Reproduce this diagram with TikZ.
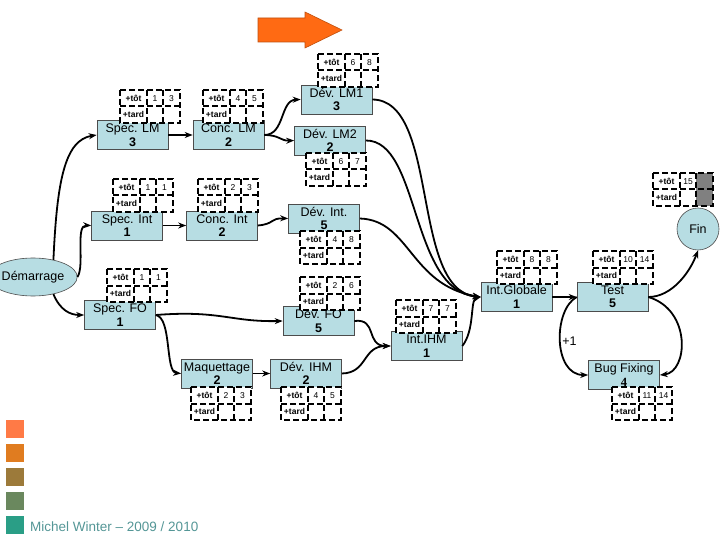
\documentclass[tikz,border=0pt]{standalone}
\usepackage{fontspec}
\setmainfont{Liberation Sans}
\newfontfamily\serifgras{Liberation Serif}
\usetikzlibrary{shapes.geometric, arrows.meta}

\definecolor{bleuclair}{RGB}{183,221,227}
\definecolor{orangevif}{RGB}{255,106,19}
\definecolor{leg1}{RGB}{255,122,70}
\definecolor{leg2}{RGB}{224,124,32}
\definecolor{leg3}{RGB}{156,122,58}
\definecolor{leg4}{RGB}{106,136,94}
\definecolor{leg5}{RGB}{42,158,134}
\definecolor{signature}{RGB}{84,150,150}

\begin{document}
\begin{tikzpicture}[x=1pt, y=-1pt,
    tache/.style={draw=gray!60!black, line width=0.6pt, fill=bleuclair,
      minimum width=71pt, minimum height=29pt, inner sep=1pt, align=center,
      font=\fontsize{12.5}{13.5}\selectfont},
    grille/.style={dash pattern=on 6pt off 3pt, line width=2pt},
    fleche/.style={line width=1.8pt, -{Stealth[length=8pt,width=6pt]}},
    petit/.style={font=\fontsize{8.5}{9}\selectfont, inner sep=0pt}]
  \useasboundingbox (0,0) rectangle (720,540);

  % fleche orange en haut
  \filldraw[fill=orangevif, draw=orangevif!75!black, line width=0.6pt]
    (258,18) -- (305,18) -- (305,12) -- (342,30) -- (305,48) -- (305,42) -- (258,42) -- cycle;

  % les taches
  \node[ellipse, draw=gray!60!black, line width=0.6pt, fill=bleuclair, minimum width=66pt,
    minimum height=38pt, inner sep=0pt, font=\fontsize{12.5}{13.5}\selectfont] (demarrage) at (33,277) {Démarrage};
  \node[tache] (speclm) at (132.5,135) {Spec. LM\\\textbf{3}};
  \node[tache] (conclm) at (228.5,135) {Conc. LM\\\textbf{2}};
  \node[tache] (devlm1) at (336.5,99.5) {Dév. LM1\\\textbf{3}};
  \node[tache] (devlm2) at (330,140.5) {Dév. LM2\\\textbf{2}};
  \node[tache] (specint) at (127,225.5) {Spec. Int\\\textbf{1}};
  \node[tache] (concint) at (222,225.5) {Conc. Int\\\textbf{2}};
  \node[tache] (devint) at (324,218.5) {Dév. Int.\\\textbf{5}};
  \node[tache] (specfo) at (120,315) {Spec. FO\\\textbf{1}};
  \node[tache] (devfo) at (318.5,321) {Dév. FO\\\textbf{5}};
  \node[tache] (maquet) at (217,373.5) {Maquettage\\\textbf{2}};
  \node[tache] (devihm) at (306,373.5) {Dév. IHM\\\textbf{2}};
  \node[tache] (intihm) at (426.5,346) {Int.IHM\\\textbf{1}};
  \node[tache] (intglob) at (516.5,297) {Int.Globale\\\textbf{1}};
  \node[tache] (test) at (612.5,297) {Test\\\textbf{5}};
  \node[tache] (bugfix) at (624,375) {Bug Fixing\\{\serifgras\bfseries 4}};
  \node[circle, draw=gray!60!black, line width=0.6pt, fill=bleuclair, minimum size=42pt,
    inner sep=0pt, font=\fontsize{12.5}{13.5}\selectfont] (fin) at (698,229) {Fin};

  % les liens
  \draw[fleche] (demarrage.40) .. controls (57,180) and (65,140) .. (speclm.west);
  \draw[fleche] (demarrage.east) .. controls (85,265) and (75,225) .. (specint.west);
  \draw[fleche] (demarrage.-40) .. controls (60,310) and (70,315) .. (specfo.west);
  \draw[fleche] (speclm) -- (conclm);
  \draw[fleche] (conclm.east) .. controls (285,135) and (280,100) .. (devlm1.west);
  \draw[fleche] (conclm.east) .. controls (280,135) and (280,141) .. (devlm2.west);
  \draw[fleche] (specint) -- (concint);
  \draw[fleche] (concint.east) .. controls (275,224) and (270,218) .. (devint.west);
  \draw[fleche] (specfo.east) .. controls (220,310) and (230,322) .. (devfo.west);
  \draw[fleche] (specfo.east) .. controls (172,318) and (165,372) .. (maquet.west);
  \draw[fleche] (maquet) -- (devihm);
  \draw[fleche] (devfo.east) .. controls (378,318) and (365,346) .. (intihm.west);
  \draw[fleche] (devihm.east) .. controls (368,373) and (362,346) .. (intihm.west);
  \draw[fleche] (devlm1.east) .. controls (440,100) and (410,290) .. (intglob.west);
  \draw[fleche] (devlm2.east) .. controls (420,140) and (410,290) .. (intglob.west);
  \draw[fleche] (devint.east) .. controls (410,220) and (410,285) .. (intglob.west);
  \draw[fleche] (intihm.east) .. controls (475,330) and (470,300) .. (intglob.west);
  \draw[fleche] (intglob) -- (test);
  \draw[fleche] (test.east) .. controls (672,297) and (690,272) .. (fin.south);
  \draw[fleche] (test.east) .. controls (692,310) and (688,372) .. (bugfix.east);
  \draw[fleche] (test.west) .. controls (553,310) and (553,375) .. node[right, inner sep=1pt,
    font=\fontsize{12.5}{13.5}\selectfont] (plusun) {+1} (bugfix.west);

  % tableaux des dates
  \foreach \gx/\gy/\ga/\gb/\gc in {120/90/1/3/white, 203/90/4/5/white, 318/54/6/8/white,
      306/153/6/7/white, 113/179/1/1/white, 198/179/2/3/white, 300/231/4/8/white,
      107/269/1/1/white, 300/277/2/6/white, 396/300/7/7/white, 497/251/8/8/white,
      593/251/10/14/white, 653/173/15//gray, 612/387/11/14/white, 191/387/2/3/white,
      281/387/4/5/white}
  {
    \fill[white] (\gx,\gy) rectangle ++(60,33);
    \fill[\gc] (\gx+43,\gy) rectangle ++(17,33);
    \draw[grille] (\gx,\gy) rectangle ++(60,33);
    \draw[grille] (\gx+27,\gy) -- ++(0,33) (\gx+43,\gy) -- ++(0,33) (\gx,\gy+16.5) -- ++(60,0);
    \node[petit] (tot-\gx-\gy) at (\gx+13.5,\gy+8.25) {\bfseries +tôt};
    \node[petit] (tard-\gx-\gy) at (\gx+13.5,\gy+24.75) {\bfseries +tard};
    \node[petit] (a-\gx-\gy) at (\gx+35,\gy+8.25) {\ga};
    \node[petit] (b-\gx-\gy) at (\gx+51.5,\gy+8.25) {\gb};
  }

  % legende
  \foreach \c [count=\i from 0] in {leg1,leg2,leg3,leg4,leg5}
    \fill[\c] (6,420+24*\i) rectangle ++(18,18);
  \node[anchor=west, inner sep=0pt, text=signature, font=\fontsize{13.5}{14}\selectfont]
    (auteur) at (30,527) {Michel Winter – 2009 / 2010};
\end{tikzpicture}
\end{document}
